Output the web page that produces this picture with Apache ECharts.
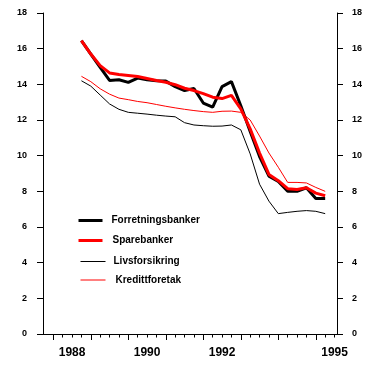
<!DOCTYPE html>
<html><head><meta charset="utf-8">
<script src="https://cdn.jsdelivr.net/npm/echarts@6/dist/echarts.min.js"></script>
<style>html,body{margin:0;padding:0;background:#fff}#c{width:375px;height:369px}</style>
</head><body><div id="c"></div>
<script>
// Quarterly observations (year-quarter), plotted at quarter end
const periods = ['1988-3','1988-4','1989-1','1989-2','1989-3','1989-4','1990-1','1990-2','1990-3','1990-4',
  '1991-1','1991-2','1991-3','1991-4','1992-1','1992-2','1992-3','1992-4','1993-1','1993-2','1993-3','1993-4',
  '1994-1','1994-2','1994-3','1994-4','1995-1'];
const forretningsbanker = [16.45,15.7,14.95,14.22,14.26,14.11,14.35,14.26,14.2,14.18,13.87,13.65,13.77,12.95,12.72,13.87,14.15,12.8,11.35,9.95,8.85,8.55,8.0,8.0,8.2,7.6,7.6];
const sparebanker = [16.45,15.7,15.05,14.64,14.55,14.5,14.44,14.33,14.22,14.12,13.98,13.78,13.65,13.48,13.28,13.2,13.38,12.62,11.5,10.15,8.95,8.6,8.15,8.1,8.2,7.9,7.75];
const livsforsikring = [14.2,13.9,13.4,12.9,12.6,12.43,12.38,12.33,12.27,12.22,12.18,11.85,11.72,11.68,11.65,11.66,11.72,11.45,10.1,8.4,7.45,6.75,6.82,6.88,6.92,6.88,6.75];
const kredittforetak = [14.45,14.15,13.75,13.45,13.23,13.14,13.04,12.97,12.87,12.77,12.68,12.6,12.53,12.47,12.43,12.49,12.5,12.43,12.0,11.1,10.15,9.35,8.5,8.5,8.47,8.22,8.0];
const yearCategories = ['1988','1989','1990','1991','1992','1993','1994','1995'];
const yearLabelsShown = ['1988','1990','1992','1995'];
const yMin = 0, yMax = 18, yStep = 2;

const toX = p => { const [y, q] = p.split('-').map(Number); return y + q / 4; };
const pairs = arr => periods.map((p, i) => [toX(p), arr[i]]);

// layout (pixels)
const plotL = 43, plotR = 337, plotT = 13, plotB = 334;
const x1988 = 53.3, pxYear = 37.5;
const xMin = 1988 + (plotL - x1988) / pxYear;
const xMax = 1988 + (plotR - x1988) / pxYear;
const font = "'Liberation Sans', Arial, Helvetica, sans-serif";
const gridH = plotB - plotT;

const hiddenY = i => ({ type: 'value', gridIndex: i, show: false, min: 0, max: 1 });
const chart = echarts.init(document.getElementById('c'), null, { renderer: 'canvas' });
const legendBase = (name, left, top, w, lw, gap, color) => ({
  data: [name], left: left, top: top, orient: 'vertical', padding: 0,
  itemWidth: w, itemHeight: 12, selectedMode: false,
  itemStyle: { opacity: 0 },
  lineStyle: { width: lw, color: color, opacity: 1 },
  textStyle: { fontFamily: font, fontSize: 10, fontWeight: 'bold', color: '#000', lineHeight: 12, padding: [0, 0, 0, gap] }
});
chart.setOption({
  animation: false,
  backgroundColor: '#fff',
  grid: [
    { left: plotL, top: plotT, width: plotR - plotL, height: gridH },
    { left: x1988, top: plotT, width: pxYear * 7.5, height: gridH },
    { left: x1988, top: plotT, width: pxYear * 7, height: gridH },
    { left: x1988, top: plotT, width: pxYear * 8, height: gridH }
  ],
  xAxis: [
    { type: 'value', gridIndex: 0, min: xMin, max: xMax, axisLine: { show: true, lineStyle: { color: '#000', width: 1 } },
      axisTick: { show: false }, axisLabel: { show: false }, splitLine: { show: false } },
    { type: 'value', gridIndex: 1, min: 1988, max: 1995.5, interval: 0.25, axisLine: { show: false },
      axisTick: { show: true, length: 3.5, lineStyle: { color: '#000' } }, axisLabel: { show: false }, splitLine: { show: false } },
    { type: 'value', gridIndex: 2, min: 1988, max: 1995, interval: 1, axisLine: { show: false },
      axisTick: { show: true, length: 6, lineStyle: { color: '#000' } }, axisLabel: { show: false }, splitLine: { show: false } },
    { type: 'category', gridIndex: 3, data: yearCategories, boundaryGap: true, axisLine: { show: false },
      axisTick: { show: false }, splitLine: { show: false },
      axisLabel: { show: true, interval: (i, v) => yearLabelsShown.includes(v), margin: 13,
        fontFamily: font, fontSize: 12, fontWeight: 'bold', color: '#000' } }
  ],
  yAxis: [
    { type: 'value', gridIndex: 0, position: 'left', min: yMin, max: yMax, interval: yStep,
      axisLine: { show: true, lineStyle: { color: '#000' } },
      axisTick: { show: true, length: 6, lineStyle: { color: '#000' } },
      axisLabel: { margin: 16, fontFamily: font, fontSize: 9, fontWeight: 'bold', color: '#000' },
      splitLine: { show: false } },
    { type: 'value', gridIndex: 0, position: 'right', min: yMin, max: yMax, interval: yStep,
      axisLine: { show: true, lineStyle: { color: '#000' } },
      axisTick: { show: true, length: 6, lineStyle: { color: '#000' } },
      axisLabel: { margin: 15, fontFamily: font, fontSize: 9, fontWeight: 'bold', color: '#000' },
      splitLine: { show: false } },
    hiddenY(1), hiddenY(2), hiddenY(3)
  ],
  legend: [
    legendBase('Forretningsbanker', 77, 214.5, 24, 3, 4, '#000'),
    legendBase('Sparebanker', 77, 234.5, 24, 3, 5, '#ff0000'),
    legendBase('Livsforsikring', 80, 255.5, 25, 1, 3, '#000'),
    legendBase('Kredittforetak', 80, 274, 25, 1, 5, '#ff0000')
  ],
  series: [
    { name: 'Forretningsbanker', type: 'line', xAxisIndex: 0, yAxisIndex: 0, data: pairs(forretningsbanker),
      symbol: 'none', color: '#000', lineStyle: { color: '#000', width: 3 }, z: 3 },
    { name: 'Sparebanker', type: 'line', xAxisIndex: 0, yAxisIndex: 0, data: pairs(sparebanker),
      symbol: 'none', color: '#ff0000', lineStyle: { color: '#ff0000', width: 3 }, z: 4 },
    { name: 'Livsforsikring', type: 'line', xAxisIndex: 0, yAxisIndex: 0, data: pairs(livsforsikring),
      symbol: 'none', color: '#000', lineStyle: { color: '#000', width: 1 }, z: 2 },
    { name: 'Kredittforetak', type: 'line', xAxisIndex: 0, yAxisIndex: 0, data: pairs(kredittforetak),
      symbol: 'none', color: '#ff0000', lineStyle: { color: '#ff0000', width: 1 }, z: 2 }
  ]
});
</script></body></html>
